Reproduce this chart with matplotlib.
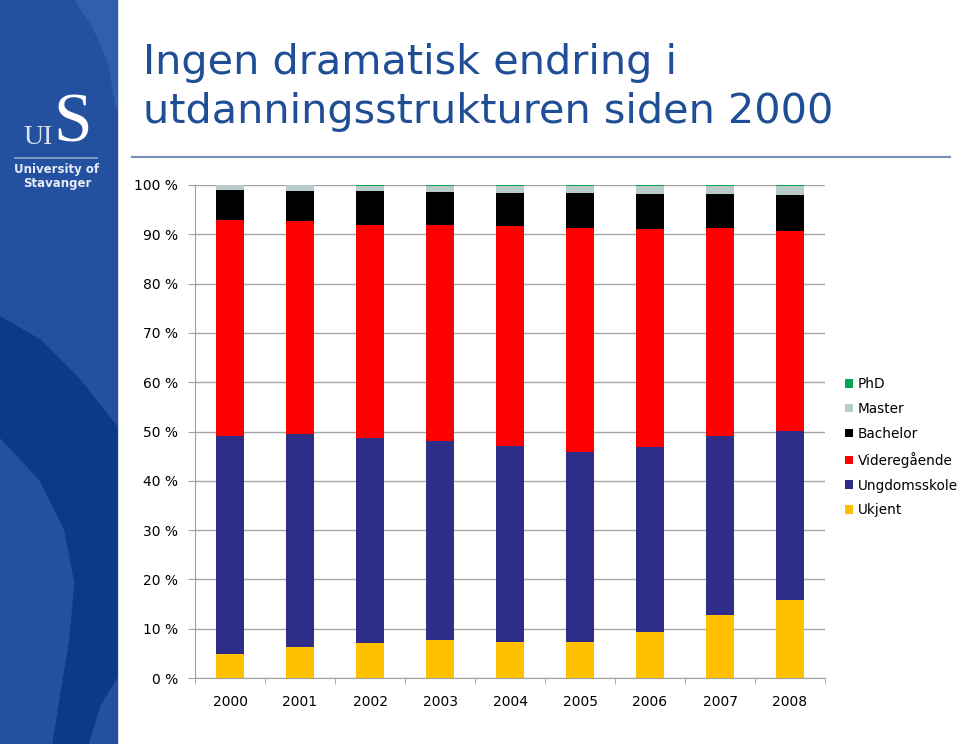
import numpy as np
import matplotlib
matplotlib.use("Agg")
import matplotlib.pyplot as plt
from matplotlib.patches import Rectangle, Polygon
from matplotlib.lines import Line2D

# data (andel i prosent, lest av figuren)
aar = ["2000", "2001", "2002", "2003", "2004", "2005", "2006", "2007", "2008"]
ukjent = [4.8, 6.2, 7.2, 7.8, 7.4, 7.4, 9.4, 12.8, 15.9]
ungdomsskole = [44.3, 43.3, 41.5, 40.3, 39.7, 38.4, 37.4, 36.3, 34.2]
videregaende = [43.8, 43.1, 43.2, 43.8, 44.6, 45.4, 44.2, 42.1, 40.6]
bachelor = [6.15, 6.2, 6.8, 6.7, 6.7, 7.1, 7.2, 7.0, 7.3]
master = [0.85, 1.1, 1.0, 1.1, 1.3, 1.4, 1.5, 1.5, 1.7]
phd = [0.1, 0.1, 0.3, 0.3, 0.3, 0.3, 0.3, 0.3, 0.3]

serier = [("Ukjent", ukjent, "#FFC000"),
          ("Ungdomsskole", ungdomsskole, "#2E2D88"),
          ("Videregående", videregaende, "#FF0000"),
          ("Bachelor", bachelor, "#000000"),
          ("Master", master, "#B9CBCB"),
          ("PhD", phd, "#00A651")]

W, H = 960, 744
fig = plt.figure(figsize=(W / 100, H / 100), dpi=100)


def fx(px):
    return px / W


def fy(py):
    return 1 - py / H


# venstre blått felt med logo
fig.patches.append(Rectangle((0, 0), fx(117), 1, transform=fig.transFigure,
                             color="#2351A0", zorder=0))
lys = [(75, 0), (117, 0), (117, 110), (108, 60), (92, 25)]
fig.patches.append(Polygon([(fx(a), fy(b)) for a, b in lys], closed=True,
                           transform=fig.transFigure, color="#3060AD", zorder=0))
mork = [(0, 317), (40, 340), (80, 380), (117, 427), (117, 677), (100, 705),
        (88, 744), (53, 744), (60, 700), (70, 640), (75, 583), (65, 530),
        (40, 480), (0, 437)]
fig.patches.append(Polygon([(fx(a), fy(b)) for a, b in mork], closed=True,
                           transform=fig.transFigure, color="#0B3A8A", zorder=0))

fig.text(fx(53), fy(142), "S", color="white", fontsize=50,
         family="Liberation Serif", ha="left", va="baseline")
fig.text(fx(53), fy(144), "UI", color="#DCE4F2", fontsize=20,
         family="Liberation Serif", ha="right", va="baseline")
fig.add_artist(Line2D([fx(15), fx(97)], [fy(158), fy(158)], color="#8EA7D2",
                      lw=1.2, transform=fig.transFigure))
fig.text(fx(57), fy(170), "University of", color="#E6ECF7", fontsize=8.5,
         fontweight="bold", ha="center", va="center")
fig.text(fx(57), fy(184), "Stavanger", color="#E6ECF7", fontsize=8.5,
         fontweight="bold", ha="center", va="center")

# tittel
tittelfarge = "#1F4E96"
fig.text(fx(143), fy(63), "Ingen dramatisk endring i", color=tittelfarge,
         fontsize=29.8, ha="left", va="center")
fig.text(fx(143), fy(112), "utdanningsstrukturen siden 2000", color=tittelfarge,
         fontsize=29.8, ha="left", va="center")
fig.add_artist(Line2D([fx(132), fx(950)], [fy(157), fy(157)], color="#7A8FB8",
                      lw=1.5, transform=fig.transFigure))

# diagram
ax = fig.add_axes([fx(195), fy(678), fx(825) - fx(195), fy(185) - fy(678)])
x = np.arange(len(aar))
bunn = np.zeros(len(aar))
handles = []
for navn, verdier, farge in serier:
    b = ax.bar(x, verdier, 0.4, bottom=bunn, color=farge, label=navn, zorder=3)
    bunn += np.array(verdier)
    handles.append(b)

ax.set_xlim(-0.5, len(aar) - 0.5)
ax.set_ylim(0, 100)
ax.set_yticks(np.arange(0, 101, 10))
ax.set_yticklabels([f"{v} %" for v in range(0, 101, 10)])
ax.set_xticks(x)
ax.set_xticklabels(aar)
ax.set_xticks(np.arange(-0.5, len(aar), 1), minor=True)
ax.tick_params(axis="x", which="major", length=0, pad=12, labelsize=10)
ax.tick_params(axis="x", which="minor", length=4, color="#A0A0A0")
ax.tick_params(axis="y", length=5, color="#A0A0A0", pad=7, labelsize=10)
ax.grid(axis="y", color="#A6A6A6", lw=1, zorder=0)
for s in ["top", "right"]:
    ax.spines[s].set_visible(False)
for s in ["left", "bottom"]:
    ax.spines[s].set_color("#A0A0A0")

leg = fig.legend(handles[::-1], [s[0] for s in serier][::-1], loc="upper left",
                 bbox_to_anchor=(fx(845), fy(377)), frameon=False, fontsize=9.8,
                 handlelength=0.6, handleheight=0.6, handletextpad=0.35,
                 labelspacing=0.8, borderaxespad=0, borderpad=0)

fig.savefig("out.png", dpi=100)
